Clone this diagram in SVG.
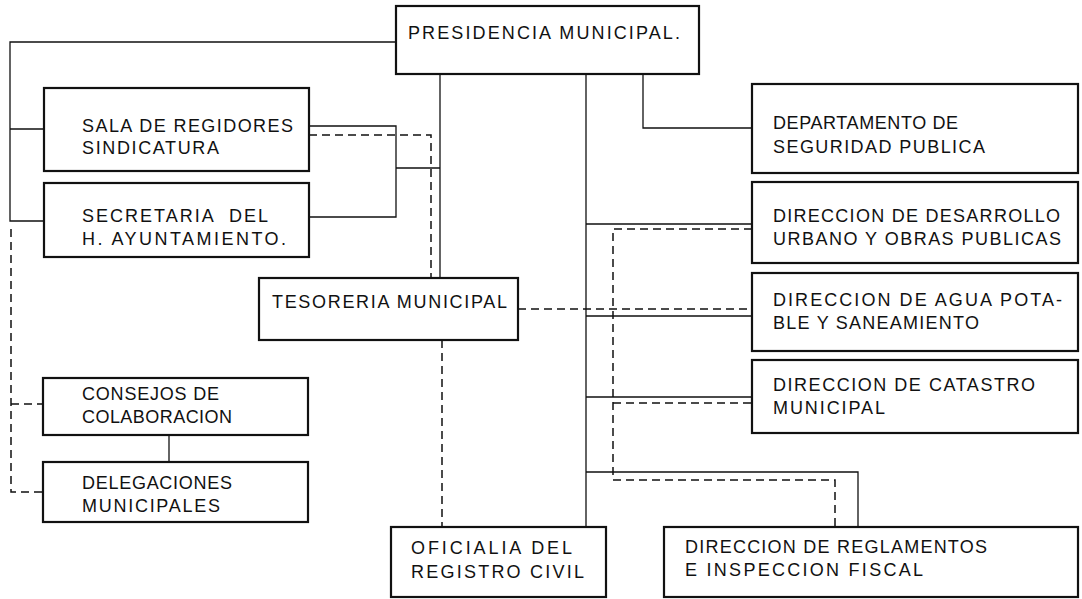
<svg xmlns="http://www.w3.org/2000/svg" width="1082" height="599" viewBox="0 0 1082 599">
<style>
.box{fill:#fff;stroke:#111;stroke-width:2.2}
.t{font-family:"Liberation Sans",Arial,sans-serif;font-size:18px;fill:#111}
.s{fill:none;stroke:#111;stroke-width:1.3}
.d{fill:none;stroke:#111;stroke-width:1.5;stroke-dasharray:8 5}
</style>
<rect width="1082" height="599" fill="#fff"/>
<g id="connectors">
<path class="s" d="M396 42H10V221H44M10 129H44"/>
<path class="s" d="M309 126H396V217H309M396 168H440"/>
<path class="s" d="M440 74V278"/>
<path class="s" d="M643 74V128H752"/>
<path class="s" d="M586 74V527M586 224H752M586 316H752M586 397H752M586 472H858V526"/>
<path class="s" d="M169 435V462"/>
<path class="d" d="M11 229V492H43M11 404H43"/>
<path class="d" d="M309 135H431V278"/>
<path class="d" d="M442 340V527"/>
<path class="d" d="M518 309H752"/>
<path class="d" d="M752 229H613V480H835V526M613 403H752"/>
</g>
<g id="presidencia"><rect class="box" x="396" y="6" width="303" height="68"/><text class="t" x="408" y="39" textLength="272" lengthAdjust="spacing">PRESIDENCIA MUNICIPAL.</text></g>
<g id="sala"><rect class="box" x="44" y="88" width="265" height="83"/><text class="t" x="82" y="132" textLength="211" lengthAdjust="spacing">SALA DE REGIDORES</text><text class="t" x="82" y="154" textLength="137" lengthAdjust="spacing">SINDICATURA</text></g>
<g id="secretaria"><rect class="box" x="44" y="183" width="265" height="74"/><text class="t" x="82" y="222" textLength="186" lengthAdjust="spacing" xml:space="preserve">SECRETARIA  DEL</text><text class="t" x="82" y="245" textLength="204" lengthAdjust="spacing">H. AYUNTAMIENTO.</text></g>
<g id="tesoreria"><rect class="box" x="259" y="278" width="259" height="62"/><text class="t" x="272" y="308" textLength="235" lengthAdjust="spacing">TESORERIA MUNICIPAL</text></g>
<g id="consejos"><rect class="box" x="43" y="378" width="265" height="57"/><text class="t" x="82" y="400" textLength="137" lengthAdjust="spacing">CONSEJOS DE</text><text class="t" x="82" y="423" textLength="150" lengthAdjust="spacing">COLABORACION</text></g>
<g id="delegaciones"><rect class="box" x="43" y="462" width="265" height="60"/><text class="t" x="82" y="489" textLength="150" lengthAdjust="spacing">DELEGACIONES</text><text class="t" x="82" y="512" textLength="138" lengthAdjust="spacing">MUNICIPALES</text></g>
<g id="oficialia"><rect class="box" x="391" y="527" width="215" height="70"/><text class="t" x="411" y="554" textLength="161" lengthAdjust="spacing">OFICIALIA DEL</text><text class="t" x="411" y="578" textLength="173" lengthAdjust="spacing">REGISTRO CIVIL</text></g>
<g id="seguridad"><rect class="box" x="752" y="84" width="326" height="89"/><text class="t" x="773" y="129" textLength="185" lengthAdjust="spacing">DEPARTAMENTO DE</text><text class="t" x="773" y="153" textLength="212" lengthAdjust="spacing">SEGURIDAD PUBLICA</text></g>
<g id="desarrollo"><rect class="box" x="752" y="182" width="326" height="81"/><text class="t" x="773" y="222" textLength="287" lengthAdjust="spacing">DIRECCION DE DESARROLLO</text><text class="t" x="773" y="245" textLength="288" lengthAdjust="spacing">URBANO Y OBRAS PUBLICAS</text></g>
<g id="agua"><rect class="box" x="752" y="273" width="326" height="78"/><text class="t" x="773" y="306" textLength="289" lengthAdjust="spacing">DIRECCION DE AGUA POTA-</text><text class="t" x="773" y="329" textLength="206" lengthAdjust="spacing">BLE Y SANEAMIENTO</text></g>
<g id="catastro"><rect class="box" x="752" y="360" width="326" height="73"/><text class="t" x="773" y="391" textLength="262" lengthAdjust="spacing">DIRECCION DE CATASTRO</text><text class="t" x="773" y="414" textLength="112" lengthAdjust="spacing">MUNICIPAL</text></g>
<g id="reglamentos"><rect class="box" x="664" y="527" width="414" height="70"/><text class="t" x="685" y="553" textLength="302" lengthAdjust="spacing">DIRECCION DE REGLAMENTOS</text><text class="t" x="685" y="576" textLength="238" lengthAdjust="spacing">E INSPECCION FISCAL</text></g>
</svg>
